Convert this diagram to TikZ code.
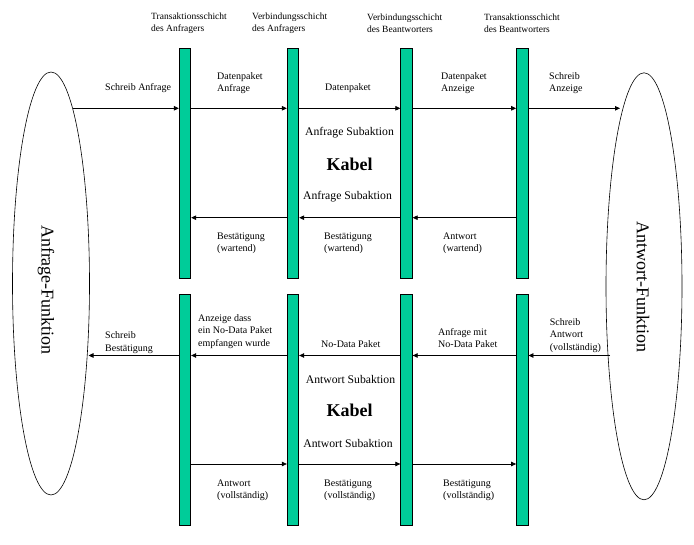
\documentclass[tikz,border=0pt]{standalone}
\usepackage{fontspec}
\setmainfont{Liberation Serif}
\usepackage{xcolor}
\usepackage{tikz}
\usetikzlibrary{shapes,arrows.meta,positioning}
\definecolor{barfill}{RGB}{0,204,153}

\begin{document}
\begin{tikzpicture}[
    x=1pt, y=-1pt,
    bar/.style={rectangle, draw, line width=0.8pt, fill=barfill, minimum width=11.5pt, inner sep=0pt},
    func/.style={ellipse, draw, line width=0.6pt, inner sep=0pt, outer sep=0pt},
    functxt/.style={rotate=-90, inner sep=0pt, font=\fontsize{18}{20}\selectfont},
    arr/.style={-{Triangle[length=5pt,width=4.5pt]}, line width=0.75pt},
    lbl/.style={anchor=west, align=left, inner sep=0pt, font=\fontsize{10}{12.5}\selectfont},
    hdr/.style={lbl, font=\fontsize{9.5}{12}\selectfont},
    sub/.style={inner sep=0pt, font=\fontsize{11.7}{14}\selectfont},
    cab/.style={inner sep=0pt, font=\fontsize{18}{20}\selectfont\bfseries}
]
\useasboundingbox (0,0) rectangle (694,545);

% Funktionen
\node[func, minimum width=77pt, minimum height=423pt] (fa) at (51,283.5) {};
\node[functxt] (fat) at (46,290) {Anfrage-Funktion};
\node[func, minimum width=76pt, minimum height=427pt] (fb) at (644,286.3) {};
\node[functxt] (fbt) at (643,287) {Antwort-Funktion};

% Schichten
\node[hdr] (h1) at (151,23) {Transaktionsschicht\\des Anfragers};
\node[hdr] (h2) at (252,23) {Verbindungsschicht\\des Anfragers};
\node[hdr] (h3) at (367,23) {Verbindungsschicht\\des Beantworters};
\node[hdr] (h4) at (484,23) {Transaktionsschicht\\des Beantworters};

\node[bar, minimum height=230pt] (t1) at (185,163) {};
\node[bar, minimum height=230pt] (t2) at (293,163) {};
\node[bar, minimum height=230pt] (t3) at (406.5,163) {};
\node[bar, minimum height=230pt] (t4) at (522.3,163) {};
\node[bar, minimum height=231pt] (u1) at (185,409.5) {};
\node[bar, minimum height=231pt] (u2) at (293,409.5) {};
\node[bar, minimum height=231pt] (u3) at (406.5,409.5) {};
\node[bar, minimum height=231pt] (u4) at (522.3,409.5) {};

% Zeilen der Pfeile, Enden am Ellipsenrand
\coordinate (ra) at (0,108.3);
\coordinate (rb) at (0,217.7);
\coordinate (rc) at (0,355.5);
\coordinate (rd) at (0,464);
\coordinate (fa1) at (72.7,108.3);
\coordinate (fa2) at (88.5,355.5);
\coordinate (fb1) at (620,108.3);
\coordinate (fb2) at (610,355.5);

% Anfrage Subaktion
\draw[arr] (fa1) -- (t1.west |- ra);
\draw[arr] (t1.east |- ra) -- (t2.west |- ra);
\draw[arr] (t2.east |- ra) -- (t3.west |- ra);
\draw[arr] (t3.east |- ra) -- (t4.west |- ra);
\draw[arr] (t4.east |- ra) -- (fb1);

\node[lbl] (la) at (105,88.5) {Schreib Anfrage};
\node[lbl] (lb) at (217,83) {Datenpaket\\Anfrage};
\node[lbl] (lc) at (325,88.5) {Datenpaket};
\node[lbl] (ld) at (441,83) {Datenpaket\\Anzeige};
\node[lbl] (le) at (549,83) {Schreib\\Anzeige};

\node[sub] (s1) at (349.5,133) {Anfrage Subaktion};
\node[cab] (k1) at (349.7,164) {Kabel};
\node[sub] (s2) at (347.5,197) {Anfrage Subaktion};

\draw[arr] (t4.west |- rb) -- (t3.east |- rb);
\draw[arr] (t3.west |- rb) -- (t2.east |- rb);
\draw[arr] (t2.west |- rb) -- (t1.east |- rb);

\node[lbl] (lf) at (217,243.5) {Bestätigung\\(wartend)};
\node[lbl] (lg) at (324,243.5) {Bestätigung\\(wartend)};
\node[lbl] (lh) at (443,243.5) {Antwort\\(wartend)};

% Antwort Subaktion
\draw[arr] (fb2) -- (u4.east |- rc);
\draw[arr] (u4.west |- rc) -- (u3.east |- rc);
\draw[arr] (u3.west |- rc) -- (u2.east |- rc);
\draw[arr] (u2.west |- rc) -- (u1.east |- rc);
\draw[arr] (u1.west |- rc) -- (fa2);

\node[lbl] (li) at (105,342.5) {Schreib\\Bestätigung};
\node[lbl] (lj) at (198,331.5) {Anzeige dass\\ein No-Data Paket\\empfangen wurde};
\node[lbl] (lk) at (321,344) {No-Data Paket};
\node[lbl] (ll) at (438,338) {Anfrage mit\\No-Data Paket};
\node[lbl] (lm) at (549.7,335.5) {Schreib\\Antwort\\(vollständig)};

\node[sub] (s3) at (350.5,379) {Antwort Subaktion};
\node[cab] (k2) at (349.7,410) {Kabel};
\node[sub] (s4) at (348,443) {Antwort Subaktion};

\draw[arr] (u1.east |- rd) -- (u2.west |- rd);
\draw[arr] (u2.east |- rd) -- (u3.west |- rd);
\draw[arr] (u3.east |- rd) -- (u4.west |- rd);

\node[lbl] (ln) at (217,490.5) {Antwort\\(vollständig)};
\node[lbl] (lo) at (324,490.5) {Bestätigung\\(vollständig)};
\node[lbl] (lp) at (443,490.5) {Bestätigung\\(vollständig)};
\end{tikzpicture}
\end{document}
